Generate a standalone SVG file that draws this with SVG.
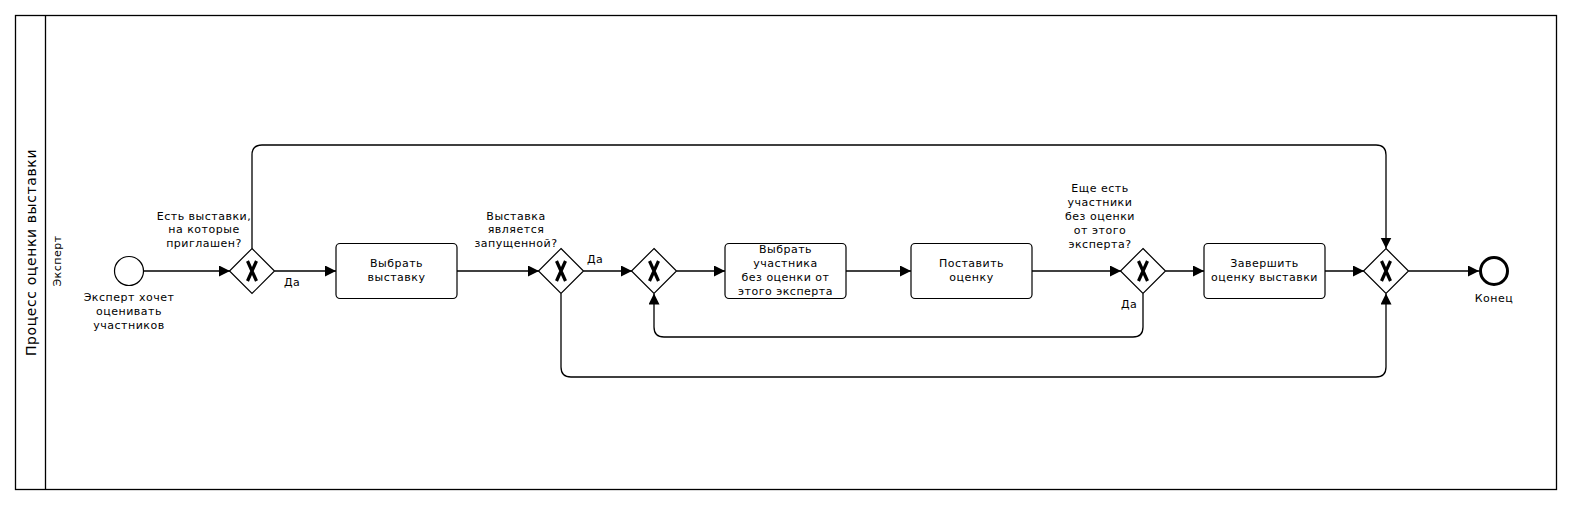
<svg xmlns="http://www.w3.org/2000/svg" width="1572" height="505" viewBox="0 0 1572 505">
<style>
text{font-family:"DejaVu Sans","Noto Sans",sans-serif;font-size:11px;fill:#000;text-anchor:middle;letter-spacing:0.5px}
.title{font-size:14px;letter-spacing:0.6px}
.shape{fill:#fff;stroke:#000;stroke-width:1.2}
.flow{fill:none;stroke:#000;stroke-width:1.3;marker-end:url(#arr)}
.xm{fill:none;stroke:#000;stroke-width:3.2;stroke-linecap:butt}
</style>
<defs>
<marker id="arr" markerUnits="userSpaceOnUse" markerWidth="12" markerHeight="12" refX="11" refY="5.5" orient="auto">
<path d="M0,0 L11,5.5 L0,11 z" fill="#000"/>
</marker>
</defs>
<rect width="1572" height="505" fill="#fff"/>
<g id="pool">
<rect x="15.5" y="15.5" width="1541" height="474" fill="#fff" stroke="#000" stroke-width="1.3"/>
<line x1="45.5" y1="15.5" x2="45.5" y2="489.5" stroke="#000" stroke-width="1.3"/>
<text class="title" transform="translate(31,252.5) rotate(-90)" dy="5">Процесс оценки выставки</text>
<text transform="translate(57,261) rotate(-90)" dy="4">Эксперт</text>
</g>
<g id="connectors">
<line class="flow" x1="144" y1="271" x2="230" y2="271"/>
<line class="flow" x1="274.5" y1="271" x2="336" y2="271"/>
<line class="flow" x1="457" y1="271" x2="539" y2="271"/>
<line class="flow" x1="583.5" y1="271" x2="632" y2="271"/>
<line class="flow" x1="676.5" y1="271" x2="725" y2="271"/>
<line class="flow" x1="846" y1="271" x2="911" y2="271"/>
<line class="flow" x1="1032" y1="271" x2="1121" y2="271"/>
<line class="flow" x1="1165.5" y1="271" x2="1204" y2="271"/>
<line class="flow" x1="1325" y1="271" x2="1364" y2="271"/>
<line class="flow" x1="1408.5" y1="271" x2="1479" y2="271"/>
<path class="flow" d="M252,248.5 V155 Q252,145 262,145 H1376 Q1386,145 1386,155 V248.5"/>
<path class="flow" d="M561,293.5 V367 Q561,377 571,377 H1376 Q1386,377 1386,367 V293.5"/>
<path class="flow" d="M1143,293.5 V327 Q1143,337 1133,337 H664 Q654,337 654,327 V293.5"/>
<text x="284" y="286" style="text-anchor:start">Да</text>
<text x="587" y="262.5" style="text-anchor:start">Да</text>
<text x="1121" y="308" style="text-anchor:start">Да</text>
</g>
<g id="start">
<circle class="shape" cx="129" cy="271" r="14.5"/>
<text x="129" y="301">Эксперт хочет</text>
<text x="129" y="315">оценивать</text>
<text x="129" y="329">участников</text>
</g>
<g id="gw1">
<path class="shape" d="M252,248.5 L274.5,271 L252,293.5 L229.5,271 z"/>
<path class="xm" d="M247.5,261 L256.5,281 M256.5,261 L247.5,281"/>
<text x="204" y="219.5">Есть выставки,</text>
<text x="204" y="233">на которые</text>
<text x="204" y="246.5">приглашен?</text>
</g>
<g id="task1">
<rect class="shape" x="336" y="243.5" width="121" height="55" rx="4"/>
<text x="396.5" y="266.5">Выбрать</text>
<text x="396.5" y="280.5">выставку</text>
</g>
<g id="gw2">
<path class="shape" d="M561,248.5 L583.5,271 L561,293.5 L538.5,271 z"/>
<path class="xm" d="M556.5,261 L565.5,281 M565.5,261 L556.5,281"/>
<text x="516" y="219.5">Выставка</text>
<text x="516" y="233">является</text>
<text x="516" y="246.5">запущенной?</text>
</g>
<g id="gw3">
<path class="shape" d="M654,248.5 L676.5,271 L654,293.5 L631.5,271 z"/>
<path class="xm" d="M649.5,261 L658.5,281 M658.5,261 L649.5,281"/>
</g>
<g id="task2">
<rect class="shape" x="725" y="243.5" width="121" height="55" rx="4"/>
<text x="785.5" y="253">Выбрать</text>
<text x="785.5" y="267">участника</text>
<text x="785.5" y="281">без оценки от</text>
<text x="785.5" y="295">этого эксперта</text>
</g>
<g id="task3">
<rect class="shape" x="911" y="243.5" width="121" height="55" rx="4"/>
<text x="971.5" y="267">Поставить</text>
<text x="971.5" y="281">оценку</text>
</g>
<g id="gw4">
<path class="shape" d="M1143,248.5 L1165.5,271 L1143,293.5 L1120.5,271 z"/>
<path class="xm" d="M1138.5,261 L1147.5,281 M1147.5,261 L1138.5,281"/>
<text x="1100" y="192">Еще есть</text>
<text x="1100" y="206">участники</text>
<text x="1100" y="220">без оценки</text>
<text x="1100" y="234">от этого</text>
<text x="1100" y="248">эксперта?</text>
</g>
<g id="task4">
<rect class="shape" x="1204" y="243.5" width="121" height="55" rx="4"/>
<text x="1264.5" y="266.5">Завершить</text>
<text x="1264.5" y="280.5">оценку выставки</text>
</g>
<g id="gw5">
<path class="shape" d="M1386,248.5 L1408.5,271 L1386,293.5 L1363.5,271 z"/>
<path class="xm" d="M1381.5,261 L1390.5,281 M1390.5,261 L1381.5,281"/>
</g>
<g id="end">
<circle cx="1494" cy="271" r="13.5" fill="#fff" stroke="#000" stroke-width="3"/>
<text x="1494" y="301.5">Конец</text>
</g>
</svg>
